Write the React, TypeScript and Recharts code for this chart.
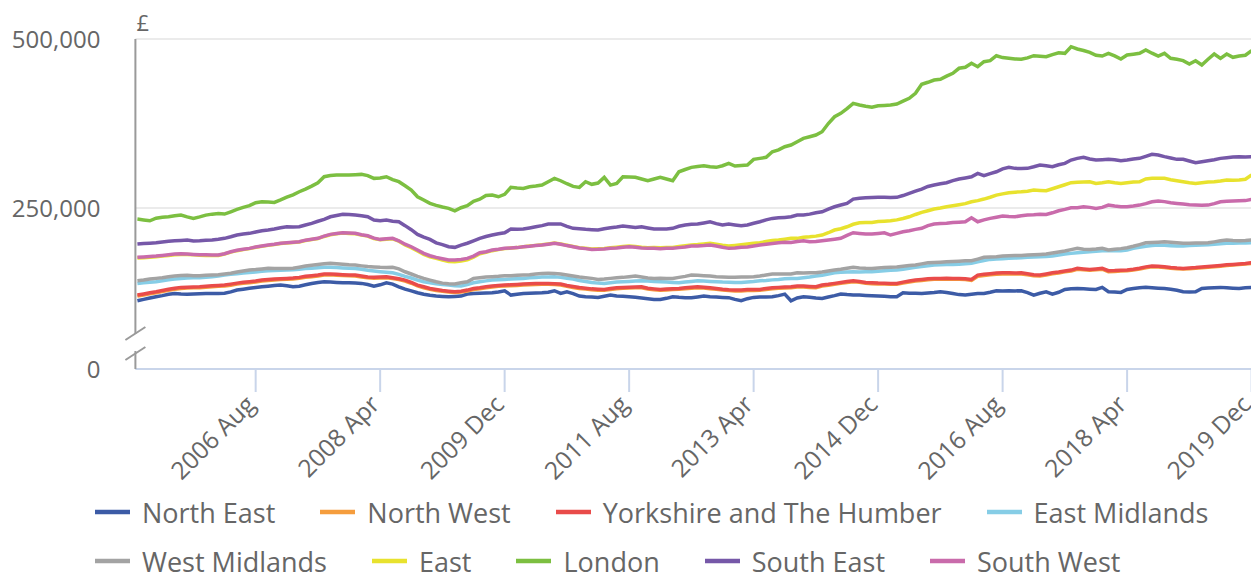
import React from 'react';
import { LineChart, Line, XAxis, YAxis, CartesianGrid, Legend } from 'recharts';

// ---------- categories ----------
const MONTH_NAMES = ['Jan', 'Feb', 'Mar', 'Apr', 'May', 'Jun', 'Jul', 'Aug', 'Sep', 'Oct', 'Nov', 'Dec'];
const YEARS = [2005, 2006, 2007, 2008, 2009, 2010, 2011, 2012, 2013, 2014, 2015, 2016, 2017, 2018, 2019];
const months = YEARS.flatMap((y) => MONTH_NAMES.map((m) => `${y} ${m}`));

// ---------- tick labels ----------
const X_TICKS = ['2006 Aug', '2008 Apr', '2009 Dec', '2011 Aug', '2013 Apr', '2014 Dec', '2016 Aug', '2018 Apr', '2019 Dec'];
const AXIS_FLOOR = 12; // broken axis: bottom of the plot is labelled "0"
const Y_TICKS = [AXIS_FLOOR, 250, 500];

// ---------- series values (£ thousands, monthly Jan 2005 – Dec 2019) ----------
const northEast = [
  112.9, 115.0, 117.0, 118.8, 120.5, 122.5, 123.8, 123.0, 122.5, 122.8, 123.2, 123.5,
  123.5, 123.8, 124.0, 126.0, 128.7, 130.0, 131.5, 132.5, 133.6, 134.5, 135.5, 136.1,
  135.0, 133.6, 134.5, 136.5, 138.5, 140.0, 141.0, 140.5, 140.0, 139.5, 139.5, 139.0,
  138.6, 137.0, 134.6, 136.5, 139.5, 137.5, 133.6, 130.0, 127.5, 124.7, 122.5, 121.0,
  119.8, 119.2, 118.8, 119.3, 119.8, 122.8, 123.8, 124.0, 124.3, 124.7, 126.0, 127.7,
  121.3, 122.5, 123.8, 124.0, 124.3, 124.7, 125.5, 127.7, 123.8, 126.2, 123.5, 119.8,
  119.0, 118.5, 117.9, 119.5, 121.3, 120.0, 119.5, 118.8, 118.0, 117.0, 116.0, 114.9,
  114.9, 116.5, 118.8, 118.0, 117.5, 117.3, 118.5, 119.8, 119.0, 118.5, 117.9, 117.5,
  115.0, 112.9, 116.0, 117.9, 118.5, 118.6, 118.8, 120.5, 122.8, 112.9, 117.0, 118.8,
  118.0, 117.0, 116.4, 118.5, 120.5, 122.8, 122.0, 121.5, 121.3, 120.8, 120.3, 119.8,
  119.5, 119.0, 118.8, 124.7, 124.2, 124.0, 123.8, 124.5, 125.0, 126.2, 125.0, 123.5,
  122.0, 121.3, 122.5, 123.5, 123.8, 125.5, 127.7, 127.5, 127.7, 127.5, 127.7, 125.0,
  121.3, 124.0, 126.2, 122.8, 125.5, 129.7, 130.5, 131.2, 130.5, 130.0, 129.7, 132.7,
  126.2, 125.8, 125.3, 129.7, 131.0, 132.0, 132.7, 132.0, 131.5, 131.2, 130.0, 128.5,
  126.2, 126.0, 126.2, 131.2, 131.8, 132.2, 132.7, 132.0, 131.5, 131.2, 132.0, 132.7,
];

const northWest = [
  119.8, 121.5, 123.2, 124.8, 126.5, 128.4, 130.0, 131.2, 131.6, 132.0, 132.3, 133.0,
  133.6, 134.2, 134.8, 136.0, 137.6, 138.8, 139.6, 140.5, 142.0, 143.0, 143.5, 144.2,
  144.6, 145.2, 146.0, 147.5, 148.5, 149.6, 151.0, 151.2, 150.8, 150.2, 149.8, 149.6,
  148.2, 146.8, 146.2, 146.5, 147.0, 145.8, 144.2, 142.0, 138.8, 134.8, 132.2, 129.8,
  128.2, 126.8, 125.8, 125.0, 125.8, 127.4, 129.6, 130.8, 132.2, 133.2, 134.2, 134.8,
  135.2, 135.6, 136.2, 136.6, 137.0, 137.2, 137.2, 136.8, 136.2, 134.2, 132.6, 131.2,
  130.2, 129.2, 128.6, 128.4, 129.6, 130.8, 131.4, 131.6, 132.0, 132.2, 130.2, 129.2,
  128.4, 128.8, 129.4, 129.8, 130.6, 131.4, 132.2, 131.6, 130.6, 129.8, 128.8, 128.0,
  127.4, 127.5, 128.2, 128.2, 128.4, 129.6, 130.6, 131.4, 131.8, 132.2, 133.2, 133.2,
  132.6, 132.2, 134.6, 135.8, 137.2, 138.6, 140.0, 141.0, 140.2, 138.8, 138.2, 137.8,
  137.6, 137.4, 137.4, 139.2, 140.6, 142.0, 143.0, 144.0, 144.6, 144.6, 144.8, 144.6,
  144.6, 144.2, 143.0, 149.2, 150.4, 151.4, 152.2, 152.6, 152.8, 152.4, 152.6, 151.4,
  150.0, 149.6, 151.0, 152.8, 154.0, 155.6, 157.0, 159.4, 158.6, 158.0, 158.8, 159.6,
  156.0, 156.2, 156.8, 157.2, 158.4, 159.8, 161.8, 163.0, 162.8, 162.2, 161.0, 160.2,
  159.8, 160.4, 161.0, 161.8, 162.5, 163.2, 164.0, 165.0, 165.8, 166.4, 167.2, 168.3,
];

const yorkshire = [
  121.3, 123.0, 124.8, 126.2, 128.0, 130.0, 131.5, 132.7, 133.0, 133.4, 133.6, 134.5,
  135.0, 135.5, 136.1, 137.5, 139.0, 140.2, 141.0, 142.0, 143.5, 144.5, 145.0, 145.5,
  146.0, 146.5, 147.5, 149.0, 150.0, 151.0, 152.4, 152.4, 152.0, 151.5, 151.0, 150.9,
  149.5, 148.0, 147.5, 148.0, 148.4, 147.0, 145.5, 143.5, 140.0, 136.0, 133.6, 131.0,
  129.5, 128.0, 127.0, 126.2, 127.0, 128.7, 131.0, 132.0, 133.5, 134.6, 135.5, 136.1,
  136.5, 137.0, 137.6, 138.0, 138.3, 138.5, 138.6, 138.2, 137.6, 135.5, 134.0, 132.5,
  131.5, 130.5, 130.0, 129.7, 131.0, 132.2, 132.7, 133.0, 133.4, 133.6, 131.5, 130.5,
  129.7, 130.2, 130.8, 131.2, 132.0, 132.8, 133.6, 133.0, 132.0, 131.2, 130.0, 129.2,
  128.7, 128.8, 129.5, 129.5, 129.7, 131.0, 132.0, 132.7, 133.2, 133.6, 134.6, 134.6,
  134.0, 133.6, 136.1, 137.2, 138.6, 140.0, 141.5, 142.5, 141.5, 140.0, 139.5, 139.0,
  138.8, 138.6, 138.6, 140.5, 142.0, 143.5, 144.5, 145.5, 146.0, 146.0, 146.3, 146.0,
  146.0, 145.5, 144.5, 150.9, 152.0, 153.0, 153.8, 154.3, 154.5, 154.0, 154.3, 153.0,
  151.5, 150.9, 152.5, 154.3, 155.5, 157.0, 158.3, 160.8, 160.0, 159.3, 160.0, 160.8,
  157.3, 157.5, 158.0, 158.3, 159.5, 161.0, 163.0, 164.2, 163.8, 163.2, 162.0, 161.2,
  160.8, 161.5, 162.0, 162.8, 163.5, 164.2, 165.0, 166.0, 166.7, 167.3, 168.0, 169.1,
];

const eastMidlands = [
  138.6, 139.5, 140.3, 141.0, 142.5, 144.0, 145.2, 146.0, 146.5, 146.8, 146.9, 147.5,
  148.5, 149.5, 150.9, 152.0, 153.0, 154.0, 154.8, 155.5, 156.5, 157.3, 157.8, 158.0,
  158.3, 158.8, 159.5, 160.5, 161.0, 161.8, 162.3, 162.3, 162.0, 161.5, 161.0, 160.5,
  159.5, 158.0, 156.8, 155.8, 155.0, 154.3, 152.0, 149.0, 146.5, 143.5, 141.0, 139.5,
  138.0, 136.8, 136.1, 135.0, 134.6, 137.0, 139.5, 141.0, 142.3, 143.5, 144.0, 144.5,
  145.0, 145.5, 146.0, 146.8, 147.3, 148.0, 148.2, 148.4, 147.5, 146.3, 145.0, 143.0,
  141.5, 140.0, 139.0, 138.6, 139.5, 140.5, 141.0, 141.5, 142.0, 142.5, 142.0, 141.5,
  141.0, 140.5, 140.0, 139.5, 140.5, 141.5, 142.5, 142.2, 141.5, 141.0, 140.5, 140.3,
  140.0, 140.0, 140.8, 141.5, 142.5, 143.0, 143.8, 144.5, 145.5, 146.0, 146.0, 147.0,
  148.0, 149.4, 150.5, 152.5, 154.3, 155.0, 155.5, 155.8, 155.6, 155.8, 155.8, 156.5,
  157.3, 158.0, 158.3, 159.5, 161.0, 162.3, 163.5, 164.5, 165.7, 166.0, 166.4, 166.7,
  167.0, 167.5, 168.2, 170.5, 172.5, 174.1, 174.5, 175.0, 175.6, 176.0, 176.5, 177.1,
  177.5, 178.0, 178.5, 179.0, 180.5, 182.0, 183.0, 184.0, 184.8, 185.4, 186.0, 186.9,
  186.9, 186.9, 186.9, 188.0, 190.4, 192.0, 193.5, 194.5, 195.3, 195.0, 194.3, 193.8,
  194.0, 194.5, 195.0, 195.3, 195.8, 196.5, 197.3, 197.8, 198.0, 198.2, 198.5, 198.7,
];

const westMidlands = [
  142.5, 143.5, 145.0, 146.0, 147.0, 148.5, 149.5, 150.4, 150.5, 150.0, 149.9, 150.5,
  151.0, 151.5, 152.4, 153.5, 155.5, 157.0, 158.3, 159.0, 160.0, 160.8, 160.5, 160.8,
  160.8, 161.0, 162.5, 164.2, 165.5, 166.5, 167.5, 168.2, 167.5, 167.0, 166.0, 165.7,
  164.5, 163.5, 163.0, 162.3, 162.0, 162.3, 160.0, 155.8, 152.5, 149.0, 146.0, 143.5,
  141.0, 139.0, 138.0, 137.6, 139.5, 141.0, 146.0, 147.0, 148.0, 148.4, 149.0, 149.9,
  150.0, 150.5, 150.9, 151.5, 152.5, 153.4, 153.5, 153.4, 152.5, 151.0, 149.4, 148.0,
  147.0, 146.0, 144.5, 145.0, 146.0, 146.9, 147.5, 148.5, 149.4, 148.0, 146.5, 146.0,
  146.2, 146.0, 146.0, 147.5, 149.0, 150.9, 150.5, 150.0, 149.4, 148.5, 148.0, 147.5,
  147.5, 148.0, 148.2, 148.4, 149.5, 151.0, 152.4, 152.5, 152.4, 152.4, 154.3, 154.0,
  154.3, 154.3, 155.5, 157.0, 158.3, 159.5, 161.0, 162.3, 161.5, 161.0, 160.8, 161.5,
  162.0, 162.3, 162.8, 164.0, 165.0, 165.7, 167.5, 169.1, 169.5, 170.0, 170.6, 171.0,
  171.5, 172.0, 172.1, 174.5, 177.1, 177.5, 178.0, 179.0, 179.3, 179.8, 180.0, 180.5,
  181.0, 181.5, 182.0, 183.5, 185.0, 186.4, 188.5, 190.4, 189.0, 188.9, 189.5, 190.4,
  187.9, 189.0, 190.0, 191.3, 193.5, 196.0, 198.7, 199.0, 199.5, 200.1, 199.5, 198.7,
  198.0, 197.8, 198.2, 198.5, 198.7, 200.0, 201.5, 202.7, 202.0, 201.6, 202.0, 202.7,
];

const east = [
  176.0, 176.5, 177.3, 178.0, 179.0, 180.0, 181.0, 181.5, 181.2, 180.8, 180.3, 180.0,
  179.8, 180.0, 182.0, 184.8, 187.0, 188.5, 190.0, 192.0, 193.5, 194.8, 196.0, 197.5,
  198.2, 199.0, 199.8, 202.0, 203.5, 205.0, 208.0, 210.5, 212.0, 213.0, 212.5, 212.0,
  210.0, 208.5, 205.0, 203.0, 204.0, 204.5, 201.0, 195.5, 191.5, 186.5, 181.5, 178.0,
  175.5, 173.0, 171.0, 170.5, 171.5, 173.5, 177.5, 182.5, 184.5, 187.0, 188.5, 190.0,
  190.8, 191.5, 192.8, 193.8, 194.8, 195.8, 197.0, 198.2, 197.0, 195.0, 193.2, 191.5,
  190.5, 189.5, 189.8, 190.3, 191.2, 192.0, 193.0, 193.8, 193.0, 192.0, 191.4, 191.6,
  191.2, 191.6, 191.8, 193.0, 194.2, 195.5, 196.0, 196.8, 197.8, 196.5, 195.0, 193.8,
  194.8, 195.8, 196.8, 198.0, 198.7, 200.5, 202.0, 202.7, 204.0, 205.2, 205.2, 207.0,
  207.5, 208.5, 210.1, 213.5, 217.5, 219.5, 222.3, 226.0, 228.3, 228.5, 228.8, 230.0,
  230.5, 231.2, 232.5, 234.5, 237.1, 240.5, 243.6, 246.0, 248.5, 250.0, 251.9, 253.5,
  255.0, 256.5, 259.3, 261.0, 263.3, 266.0, 269.2, 271.0, 272.6, 273.5, 274.1, 275.0,
  276.6, 276.0, 275.6, 278.5, 281.5, 284.5, 287.5, 288.0, 288.5, 288.9, 286.5, 287.5,
  288.9, 287.5, 286.5, 287.5, 288.5, 288.9, 293.0, 293.9, 294.0, 293.9, 292.0, 290.5,
  288.9, 287.5, 286.5, 287.5, 288.5, 288.9, 290.0, 291.4, 291.0, 291.4, 292.5, 298.8,
];

const london = [
  233.7, 232.5, 231.2, 235.0, 236.5, 237.1, 238.5, 239.6, 237.0, 234.7, 237.0, 239.6,
  241.0, 242.1, 241.1, 244.5, 248.0, 251.0, 253.5, 257.9, 259.3, 259.0, 258.4, 262.0,
  266.0, 269.5, 274.1, 278.0, 282.5, 287.5, 296.3, 298.0, 298.8, 299.0, 298.8, 299.3,
  299.8, 298.0, 293.9, 294.5, 296.3, 292.0, 289.0, 283.0, 276.6, 266.7, 262.0, 256.9,
  254.0, 251.5, 249.5, 246.0, 250.5, 253.5, 260.0, 263.0, 268.5, 269.2, 266.7, 270.3,
  280.6, 279.5, 279.1, 281.5, 282.5, 284.0, 289.0, 293.9, 290.4, 286.0, 282.0, 280.6,
  288.9, 285.1, 287.0, 295.4, 284.0, 286.5, 296.3, 296.0, 295.4, 293.0, 290.4, 293.0,
  295.4, 293.0, 290.4, 303.7, 307.0, 310.2, 311.5, 312.6, 311.0, 310.2, 312.6, 316.1,
  312.1, 313.0, 313.6, 322.0, 323.5, 325.0, 333.3, 336.0, 340.7, 343.2, 348.1, 353.1,
  355.5, 358.0, 362.9, 375.0, 385.1, 390.1, 397.0, 404.9, 402.4, 400.5, 399.0, 401.3,
  401.8, 402.4, 403.8, 408.0, 412.3, 419.7, 433.0, 436.0, 439.3, 440.4, 445.0, 449.3,
  456.7, 458.1, 464.1, 459.0, 466.4, 467.9, 475.3, 472.5, 471.4, 470.5, 470.0, 472.0,
  475.3, 474.5, 473.8, 477.0, 479.7, 478.8, 488.6, 485.2, 483.0, 480.3, 476.0, 474.8,
  478.8, 475.0, 470.4, 476.3, 477.5, 478.8, 483.7, 479.0, 474.8, 478.8, 471.4, 470.0,
  468.0, 463.0, 467.9, 461.5, 470.0, 477.8, 471.4, 477.8, 472.9, 474.8, 476.0, 482.7,
];

const southEast = [
  196.7, 197.5, 198.0, 198.7, 199.8, 200.8, 201.6, 202.2, 202.7, 201.2, 201.5, 202.3,
  202.7, 203.8, 205.2, 207.5, 210.1, 211.5, 212.6, 214.5, 216.4, 217.5, 219.0, 221.0,
  222.3, 222.0, 222.3, 225.0, 227.4, 230.5, 233.3, 237.1, 239.0, 240.7, 240.5, 239.6,
  238.5, 237.1, 232.2, 231.2, 232.2, 230.5, 229.7, 224.0, 218.0, 211.1, 207.0, 203.7,
  198.5, 196.0, 192.8, 191.9, 195.3, 198.0, 201.5, 205.2, 208.0, 210.1, 212.0, 213.5,
  218.9, 218.5, 218.9, 220.5, 222.3, 224.0, 226.3, 226.3, 226.5, 223.0, 220.0, 219.5,
  218.5, 218.0, 217.5, 219.5, 220.9, 222.0, 223.4, 222.5, 221.4, 222.3, 220.5, 218.9,
  218.9, 219.0, 220.0, 223.0, 224.9, 226.0, 226.3, 228.0, 229.7, 227.0, 224.9, 226.3,
  225.0, 223.8, 225.0, 227.5, 229.7, 232.5, 234.7, 235.5, 236.2, 237.1, 239.6, 239.6,
  241.0, 243.0, 244.5, 248.5, 251.9, 254.5, 256.9, 263.3, 264.5, 265.2, 265.5, 265.8,
  265.8, 265.5, 265.8, 268.5, 271.7, 275.0, 278.1, 282.0, 284.0, 286.0, 287.5, 290.5,
  292.9, 294.5, 296.3, 301.3, 297.8, 301.0, 303.7, 308.0, 310.2, 308.7, 308.5, 308.7,
  311.0, 313.6, 312.5, 311.1, 314.0, 316.1, 321.0, 323.5, 325.0, 322.5, 321.0, 321.5,
  322.0, 321.5, 320.0, 321.0, 322.5, 323.5, 326.5, 329.4, 328.4, 326.0, 324.0, 322.0,
  322.0, 319.5, 317.0, 318.5, 320.0, 321.5, 323.5, 324.5, 325.5, 325.9, 325.5, 325.9,
];

const southWest = [
  177.1, 177.8, 178.3, 179.0, 180.0, 181.0, 182.0, 182.3, 182.0, 181.5, 181.0, 180.8,
  180.5, 180.5, 182.5, 185.4, 187.5, 189.0, 190.4, 192.5, 194.0, 195.3, 196.5, 198.0,
  198.7, 199.5, 200.1, 202.5, 204.0, 205.2, 208.5, 211.1, 212.5, 213.5, 213.0, 212.6,
  210.5, 209.0, 205.5, 203.7, 204.5, 205.2, 201.6, 196.5, 192.8, 188.0, 183.0, 179.5,
  177.1, 175.0, 173.1, 173.1, 174.0, 175.6, 179.0, 183.9, 185.5, 187.9, 189.0, 190.4,
  191.0, 191.5, 192.8, 193.5, 194.5, 195.3, 196.5, 197.8, 196.5, 194.5, 192.8, 191.0,
  190.0, 188.9, 189.0, 189.5, 190.4, 191.0, 192.0, 192.8, 192.0, 191.0, 190.4, 190.5,
  190.0, 190.4, 190.4, 191.5, 192.5, 193.8, 194.0, 194.5, 195.3, 194.0, 192.0, 190.4,
  191.0, 191.9, 192.5, 194.0, 195.3, 196.5, 197.5, 198.7, 199.5, 199.0, 200.5, 201.6,
  200.1, 200.5, 201.5, 202.7, 204.0, 205.2, 209.5, 213.5, 212.5, 211.5, 211.5, 212.5,
  213.5, 210.1, 212.5, 215.0, 216.4, 218.5, 220.0, 224.0, 226.3, 227.0, 227.4, 228.5,
  229.0, 229.7, 235.7, 229.7, 232.5, 234.7, 236.5, 238.2, 237.5, 237.1, 238.5, 239.6,
  240.0, 240.7, 240.5, 243.0, 246.0, 248.0, 250.4, 250.5, 251.9, 251.0, 249.5, 251.0,
  254.4, 253.0, 252.0, 251.9, 253.0, 254.4, 256.5, 259.3, 260.4, 259.5, 258.0, 256.9,
  256.0, 255.0, 254.4, 254.0, 254.4, 256.5, 259.3, 260.0, 260.5, 260.8, 261.0, 262.9,
];

const SERIES = [
  { key: 'northEast', name: 'North East', color: '#3c5ba6', values: northEast },
  { key: 'northWest', name: 'North West', color: '#f59d3d', values: northWest },
  { key: 'yorkshire', name: 'Yorkshire and The Humber', color: '#e94b4a', values: yorkshire },
  { key: 'eastMidlands', name: 'East Midlands', color: '#86cde6', values: eastMidlands },
  { key: 'westMidlands', name: 'West Midlands', color: '#a3a3a3', values: westMidlands },
  { key: 'east', name: 'East', color: '#e8e22e', values: east },
  { key: 'london', name: 'London', color: '#7cbf41', values: london },
  { key: 'southEast', name: 'South East', color: '#7658a8', values: southEast },
  { key: 'southWest', name: 'South West', color: '#c96bab', values: southWest },
];

const data = months.map((month, i) => {
  const row: Record<string, string | number> = { month };
  SERIES.forEach((s) => {
    row[s.key] = s.values[i];
  });
  return row;
});

const FONT = "'Open Sans', 'DejaVu Sans', sans-serif";
const TEXT_COLOR = '#666666';
const Y_TICK_GAP = 35;

const formatY = (v: number) => (v === AXIS_FLOOR ? '0' : (v * 1000).toLocaleString('en-GB'));

const YTick = (props: any) => {
  const { x, y, payload } = props;
  const axisX = x + Y_TICK_GAP;
  const v = payload.value;
  return (
    <g>
      <text x={x} y={y} dy={9} textAnchor="end" fill={TEXT_COLOR} fontSize={24} fontFamily={FONT}>
        {formatY(v)}
      </text>
      {v === 500 && (
        <text x={axisX + 1} y={y - 8} textAnchor="start" fill={TEXT_COLOR} fontSize={22} fontFamily={FONT}>
          £
        </text>
      )}
      {v === AXIS_FLOOR && (
        <g stroke="#9a9a9a" strokeWidth={2}>
          <rect x={axisX - 3} y={y - 35} width={6} height={17} fill="#ffffff" stroke="none" />
          <line x1={axisX - 10} y1={y - 29} x2={axisX + 10} y2={y - 42} />
          <line x1={axisX - 10} y1={y - 9} x2={axisX + 10} y2={y - 22} />
        </g>
      )}
    </g>
  );
};

const XTick = (props: any) => {
  const { x, y, payload } = props;
  const px = x + 1;
  const py = y + 14;
  return (
    <text
      x={px}
      y={py}
      textAnchor="end"
      transform={`rotate(-45 ${px} ${py})`}
      fill={TEXT_COLOR}
      fontSize={24.5}
      fontFamily={FONT}
    >
      {payload.value}
    </text>
  );
};

const LegendContent = () => (
  <div
    style={{
      boxSizing: 'border-box',
      height: 110,
      width: 1251,
      paddingLeft: 87,
      paddingTop: 30,
      display: 'flex',
      flexWrap: 'wrap',
      alignContent: 'flex-start',
      columnGap: 45,
      rowGap: 23,
      fontFamily: FONT,
      fontSize: 27,
      color: TEXT_COLOR,
      overflow: 'visible',
    }}
  >
    {SERIES.map((s) => (
      <div key={s.key} style={{ display: 'flex', alignItems: 'center', height: 26 }}>
        <svg width={35} height={6} style={{ display: 'block' }}>
          <line x1={0} y1={3} x2={35} y2={3} stroke={s.color} strokeWidth={4.5} />
        </svg>
        <span style={{ marginLeft: 12, whiteSpace: 'nowrap', lineHeight: 1 }}>{s.name}</span>
      </div>
    ))}
  </div>
);

export default function App() {
  return (
    <LineChart width={1251} height={571} data={data} margin={{ top: 31, right: 7.4, bottom: 0, left: 0 }}>
      <CartesianGrid vertical={false} stroke="#e4e4e4" strokeWidth={1.5} />
      <XAxis
        dataKey="month"
        ticks={X_TICKS}
        interval={0}
        height={100}
        tickSize={23}
        tickMargin={0}
        padding={{ left: 2, right: 0 }}
        axisLine={{ stroke: '#c9d5ea', strokeWidth: 2 }}
        tickLine={{ stroke: '#c9d5ea', strokeWidth: 2 }}
        tick={(p: any) => <XTick {...p} />}
      />
      <YAxis
        type="number"
        domain={[AXIS_FLOOR, 500]}
        ticks={Y_TICKS}
        allowDataOverflow
        width={127.4}
        tickSize={0}
        tickMargin={Y_TICK_GAP}
        tickLine={false}
        axisLine={{ stroke: '#9a9a9a', strokeWidth: 2 }}
        tick={(p: any) => <YTick {...p} />}
      />
      <Legend verticalAlign="bottom" content={<LegendContent />} wrapperStyle={{ left: 0, bottom: 0, width: 1251 }} />
      {SERIES.map((s) => (
        <Line
          key={s.key}
          type="linear"
          dataKey={s.key}
          name={s.name}
          stroke={s.color}
          strokeWidth={3.5}
          dot={false}
          activeDot={false}
          isAnimationActive={false}
        />
      ))}
    </LineChart>
  );
}
